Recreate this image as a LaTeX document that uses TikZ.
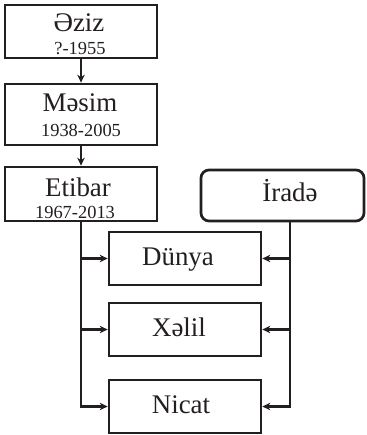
\documentclass[tikz,border=0pt]{standalone}
\usepackage{fontspec}
\setmainfont{Liberation Serif}
\usetikzlibrary{arrows.meta}
\definecolor{ink}{HTML}{231F20}
\begin{document}
\begin{tikzpicture}[x=1bp,y=-1bp,
  box/.style={draw=ink, line width=2.7bp, minimum width=152bp, minimum height=53bp, inner sep=0pt},
  nm/.style={text=ink, inner sep=0pt, anchor=base, font=\fontsize{27}{27}\selectfont},
  yr/.style={text=ink, inner sep=0pt, anchor=base, font=\fontsize{18.5}{18.5}\selectfont},
  conn/.style={draw=ink, line width=2.3bp, -{Stealth[length=8bp,width=7.5bp]}},
  trunk/.style={draw=ink, line width=2.3bp}]
\useasboundingbox (0,0) rectangle (366,435);
\fill[white] (0,0) rectangle (366,435);
% ancestors
\node[box] (aziz) at (81,31.5) {};
\node[nm] (azizN) at (79,32) {Əziz};
\node[yr] (azizY) at (80,55) {?-1955};
\node[box, minimum height=61bp] (masim) at (81,114.5) {};
\node[nm] (masimN) at (80,112) {Məsim};
\node[yr] (masimY) at (81,137) {1938-2005};
\node[box, minimum height=54bp] (etibar) at (81,194) {};
\node[nm] (etibarN) at (78,197) {Etibar};
\node[yr] (etibarY) at (75,218) {1967-2013};
\node[box, minimum width=163bp, minimum height=51bp, rounded corners=8bp] (irade) at (282.5,195.5) {};
\node[nm] (iradeN) at (290,202) {İradə};
% children
\node[box] (dunya) at (185,258.5) {};
\node[nm] (dunyaN) at (178,265) {Dünya};
\node[box] (xelil) at (185,329.5) {};
\node[nm] (xelilN) at (179,336) {Xəlil};
\node[box] (nicat) at (185,406.5) {};
\node[nm] (nicatN) at (181,413) {Nicat};
% connectors
\draw[conn] (aziz.south) -- (masim.north);
\draw[conn] (masim.south) -- (etibar.north);
\draw[conn] (etibar.south) |- (nicat.west);
\draw[conn] (etibar.south |- dunya.west) -- (dunya.west);
\draw[conn] (etibar.south |- xelil.west) -- (xelil.west);
\coordinate (ib) at (290,221);
\draw[conn] (ib) |- (nicat.east);
\draw[conn] (ib |- dunya.east) -- (dunya.east);
\draw[conn] (ib |- xelil.east) -- (xelil.east);
\end{tikzpicture}
\end{document}
